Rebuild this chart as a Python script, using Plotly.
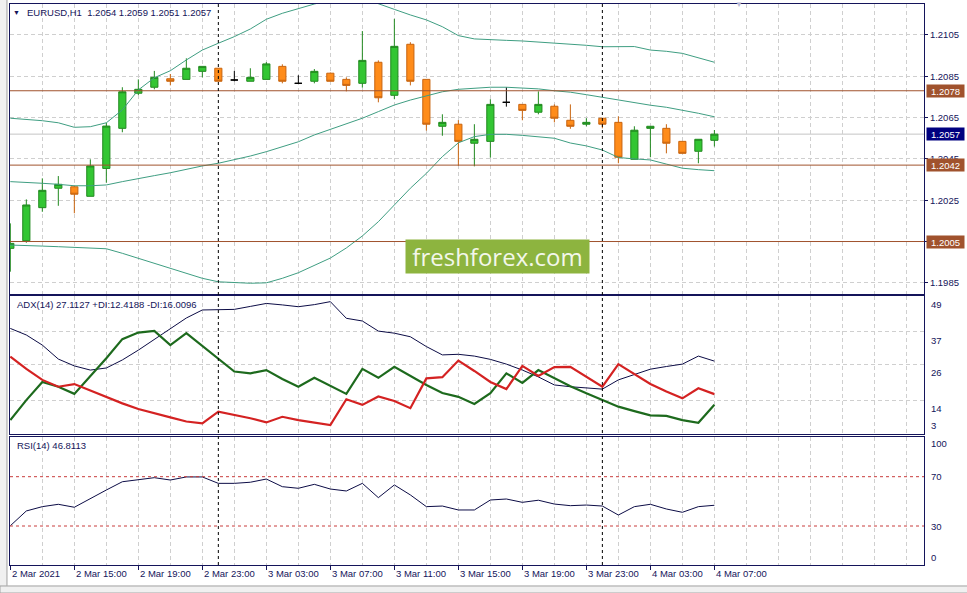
import plotly.graph_objects as go
from plotly.subplots import make_subplots
import pandas as pd

# ---------------- data ----------------
symbol = "EURUSD,H1"
times = pd.date_range("2021-03-02 11:00", periods=45, freq="h")

open_ = [1.20017, 1.20054, 1.20214, 1.20308, 1.20315, 1.20269, 1.20404, 1.20598, 1.20768, 1.20797,
         1.20838, 1.20835, 1.20874, 1.20889, 1.20832, 1.20826, 1.20835, 1.20898, 1.20816, 1.20826,
         1.20865, 1.20835, 1.20816, 1.20918, 1.20758, 1.21005, 1.20835, 1.20608, 1.20618, 1.20526,
         1.20535, 1.20724, 1.20714, 1.20676, 1.20705, 1.20637, 1.20618, 1.20647, 1.20627, 1.20448,
         1.20598, 1.20598, 1.20535, 1.20487, 1.2054]
high = [1.20138, 1.20254, 1.20356, 1.20367, 1.20322, 1.20448, 1.20625, 1.20797, 1.20835, 1.20876,
        1.20861, 1.20937, 1.20898, 1.20889, 1.20876, 1.20889, 1.20919, 1.20908, 1.20855, 1.20885,
        1.20868, 1.20845, 1.21069, 1.20927, 1.21128, 1.21015, 1.20835, 1.20666, 1.20638, 1.20618,
        1.20739, 1.20797, 1.20714, 1.20777, 1.20714, 1.20714, 1.20647, 1.20647, 1.20656, 1.20608,
        1.20608, 1.20618, 1.20535, 1.20545, 1.2059]
low = [1.19904, 1.20044, 1.20194, 1.20223, 1.20187, 1.20269, 1.20335, 1.20579, 1.20759, 1.20787,
       1.20806, 1.20835, 1.20845, 1.20826, 1.20826, 1.20826, 1.20835, 1.20816, 1.20816, 1.20816,
       1.20826, 1.20777, 1.20795, 1.20724, 1.20739, 1.20806, 1.20587, 1.20562, 1.20417, 1.20414,
       1.20456, 1.20703, 1.20637, 1.20666, 1.20627, 1.20596, 1.20608, 1.20598, 1.20429, 1.20448,
       1.20458, 1.20477, 1.20477, 1.20429, 1.2051]
close = [1.20041, 1.20227, 1.20298, 1.20327, 1.20279, 1.20416, 1.20609, 1.20775, 1.20787, 1.20845,
         1.20826, 1.20889, 1.20898, 1.20826, 1.20832, 1.20845, 1.20910, 1.20826, 1.20816, 1.20874,
         1.20826, 1.20806, 1.20927, 1.20746, 1.20995, 1.20826, 1.20618, 1.20627, 1.20535, 1.20545,
         1.20714, 1.20724, 1.20685, 1.20714, 1.20647, 1.20608, 1.20627, 1.20618, 1.20458, 1.20589,
         1.20608, 1.20526, 1.20477, 1.20545, 1.2057]

bb_upper = [1.20647, 1.20642, 1.20635, 1.20625, 1.20603, 1.20606, 1.20625, 1.20687, 1.20784, 1.20843,
            1.20877, 1.20929, 1.20977, 1.21010, 1.21042, 1.21079, 1.21126, 1.21155, 1.21179, 1.21200,
            1.21219, 1.21234, 1.21229, 1.21200, 1.21174, 1.21147, 1.21123, 1.21090, 1.21047, 1.21031,
            1.21026, 1.21024, 1.21021, 1.21016, 1.21013, 1.21006, 1.21000, 1.20993, 1.20995, 1.20994,
            1.20977, 1.20971, 1.20961, 1.20940, 1.20918]
bb_middle = [1.20340, 1.20337, 1.20332, 1.20327, 1.20320, 1.20320, 1.20324, 1.20340, 1.20353, 1.20369,
             1.20383, 1.20400, 1.20416, 1.20429, 1.20445, 1.20464, 1.20485, 1.20509, 1.20533, 1.20566,
             1.20593, 1.20619, 1.20647, 1.20679, 1.20711, 1.20735, 1.20756, 1.20775, 1.20787, 1.20792,
             1.20797, 1.20797, 1.20793, 1.20789, 1.20780, 1.20773, 1.20761, 1.20748, 1.20735, 1.20722,
             1.20710, 1.20700, 1.20687, 1.20671, 1.20654]
bb_lower = [1.20033, 1.20032, 1.20028, 1.20025, 1.20022, 1.20020, 1.20015, 1.19993, 1.19969, 1.19944,
            1.19920, 1.19896, 1.19872, 1.19855, 1.19850, 1.19848, 1.19850, 1.19872, 1.19899, 1.19936,
            1.19970, 1.20019, 1.20077, 1.20146, 1.20227, 1.20308, 1.20380, 1.20461, 1.20528, 1.20558,
            1.20569, 1.20569, 1.20564, 1.20558, 1.20550, 1.20527, 1.20513, 1.20493, 1.20457, 1.20450,
            1.20445, 1.20425, 1.20405, 1.20398, 1.20393]

adx = [38.1, 35.9, 32.5, 27.8, 25.5, 24.1, 24.8, 27.5, 30.8, 34.5,
       38.2, 41.6, 44.3, 44.5, 44.5, 45.5, 46.5, 46.0, 45.4, 46.1,
       47.1, 41.5, 40.6, 37.2, 36.5, 35.3, 32.0, 29.2, 29.4, 28.8,
       27.7, 26.1, 24.1, 21.8, 19.1, 18.5, 18.1, 17.7, 20.8, 22.6,
       24.4, 25.3, 26.1, 28.8, 27.1127]
plus_di = [7.3, 14.0, 20.1, 18.5, 16.1, 22.1, 28.1, 34.5, 36.7, 37.3,
           32.5, 36.5, 32.2, 28.1, 23.6, 23.0, 24.1, 21.1, 18.5, 21.5,
           18.7, 16.1, 24.5, 21.5, 25.2, 22.1, 19.1, 16.4, 15.1, 12.7,
           16.3, 23.0, 19.8, 24.1, 21.3, 18.7, 16.3, 14.0, 11.8, 10.3,
           8.9, 8.7, 7.3, 6.4, 12.4188]
minus_di = [28.6, 24.5, 20.8, 18.5, 19.4, 17.2, 15.1, 12.9, 11.0, 9.5,
            8.2, 6.8, 6.2, 10.1, 9.0, 7.9, 6.5, 8.4, 7.3, 6.5,
            5.6, 14.3, 12.4, 15.2, 13.7, 11.3, 21.3, 21.7, 27.3, 23.8,
            20.1, 17.7, 25.5, 22.1, 25.1, 25.2, 21.8, 18.5, 26.1, 22.8,
            19.4, 16.9, 14.6, 18.0, 16.0096]
rsi = [30.2, 42.2, 45.7, 47.6, 45.2, 52.5, 59.2, 65.9, 67.3, 69.2,
       67.3, 69.8, 69.8, 64.6, 64.6, 65.5, 68.1, 61.9, 60.6, 63.8,
       60.0, 58.4, 64.6, 53.0, 63.3, 55.2, 45.7, 46.2, 43.0, 43.0,
       51.1, 51.9, 49.2, 50.9, 47.8, 46.5, 47.0, 46.2, 38.9, 45.7,
       47.6, 43.8, 41.1, 45.7, 46.8113]

sr_levels = [1.2078, 1.2042, 1.2005]
price_ticks = [1.2105, 1.2085, 1.2065, 1.2045, 1.2025, 1.2005, 1.1985]
adx_ticks = [49, 37, 26, 14, 3]
rsi_ticks = [100, 70, 30, 0]
rsi_levels = [70, 30]
time_labels = ["2 Mar 2021", "2 Mar 15:00", "2 Mar 19:00", "2 Mar 23:00", "3 Mar 03:00",
               "3 Mar 07:00", "3 Mar 11:00", "3 Mar 15:00", "3 Mar 19:00", "3 Mar 23:00",
               "4 Mar 03:00", "4 Mar 07:00"]
time_label_bars = [0, 4, 8, 12, 16, 20, 24, 28, 32, 36, 40, 44]

# ---------------- styling ----------------
NAVY = "#14145a"
GRID = "#cfcfcf"
BB_COLOR = "#3f9e82"
SR_COLOR = "#a0522d"
FONT = "Liberation Sans, Arial, sans-serif"
FS = 9.5

idx = list(range(len(close)))
X_RANGE = [-0.02, 57.1]

fig = make_subplots(rows=3, cols=1, shared_xaxes=False)

# Bollinger bands
for band in (bb_upper, bb_middle, bb_lower):
    fig.add_trace(go.Scatter(x=idx, y=band, mode="lines", line=dict(color=BB_COLOR, width=1),
                             hoverinfo="skip"), row=1, col=1)

# candles (normal + doji drawn black)
norm = [i for i in idx if open_[i] != close[i]]
doji = [i for i in idx if open_[i] == close[i]]
fig.add_trace(go.Candlestick(
    x=norm, open=[open_[i] for i in norm], high=[high[i] for i in norm],
    low=[low[i] for i in norm], close=[close[i] for i in norm],
    increasing=dict(line=dict(color="#21891f", width=1), fillcolor="#33c633"),
    decreasing=dict(line=dict(color="#c8640f", width=1), fillcolor="#ff8c1a"),
    whiskerwidth=0, hoverinfo="skip"), row=1, col=1)
fig.add_trace(go.Candlestick(
    x=doji, open=[open_[i] for i in doji], high=[high[i] for i in doji],
    low=[low[i] for i in doji], close=[close[i] for i in doji],
    increasing=dict(line=dict(color="#000000", width=1), fillcolor="#000000"),
    decreasing=dict(line=dict(color="#000000", width=1), fillcolor="#000000"),
    whiskerwidth=0, hoverinfo="skip"), row=1, col=1)

# ADX panel
fig.add_trace(go.Scatter(x=idx, y=adx, mode="lines", line=dict(color="#0c0c46", width=1)), row=2, col=1)
fig.add_trace(go.Scatter(x=idx, y=plus_di, mode="lines", line=dict(color="#1d6a1d", width=2.2)), row=2, col=1)
fig.add_trace(go.Scatter(x=idx, y=minus_di, mode="lines", line=dict(color="#d42222", width=2.2)), row=2, col=1)

# RSI panel
fig.add_trace(go.Scatter(x=idx, y=rsi, mode="lines", line=dict(color="#0c0c46", width=1)), row=3, col=1)

# ---------------- layout ----------------
fig.update_layout(
    width=967, height=593, margin=dict(l=10, r=43, t=4, b=28),
    paper_bgcolor="white", plot_bgcolor="white", showlegend=False,
    font=dict(family=FONT, size=FS, color=NAVY), boxgap=0.36,
)

axis_line = dict(showline=True, mirror=True, linecolor=NAVY, linewidth=1, zeroline=False)
grid_x = dict(showgrid=True, gridcolor=GRID, griddash="4px,3px", gridwidth=1)

for r in (1, 2):
    fig.update_xaxes(row=r, col=1, range=X_RANGE, tickmode="array",
                     tickvals=list(range(0, 58, 2)), showticklabels=False, ticks="",
                     rangeslider=dict(visible=False), **grid_x, **axis_line)
fig.update_xaxes(row=3, col=1, range=X_RANGE, tickmode="array", tickvals=time_label_bars,
                 showticklabels=False, ticks="outside", ticklen=4, tickcolor=NAVY,
                 minor=dict(tick0=0, dtick=2, showgrid=True, gridcolor=GRID, griddash="4px,3px",
                            ticks=""),
                 rangeslider=dict(visible=False), **grid_x, **axis_line)

fig.update_yaxes(row=1, col=1, domain=[0.48307, 1.0], range=[1.19796, 1.21200], side="right",
                 tickmode="array", tickvals=price_ticks, ticktext=[f"{v:.4f}" for v in price_ticks],
                 ticks="outside", ticklen=3, tickcolor=NAVY, tickfont=dict(size=FS, color=NAVY),
                 showgrid=True, gridcolor=GRID, griddash="4px,3px", **axis_line)
fig.update_yaxes(row=2, col=1, domain=[0.23351, 0.47950], range=[2.61, 49.0], side="right",
                 tickmode="array", tickvals=adx_ticks[1:-1], showticklabels=False, ticks="",
                 showgrid=True, gridcolor=GRID, griddash="4px,3px", **axis_line)
fig.update_yaxes(row=3, col=1, domain=[0.0, 0.22816], range=[-1.64, 102.2], side="right",
                 showticklabels=False, ticks="", showgrid=False, **axis_line)

shapes = []
# current bid line
shapes.append(dict(type="line", xref="paper", yref="y", x0=0, x1=1, y0=close[-1], y1=close[-1],
                   line=dict(color="#c4c4c4", width=1), layer="between"))
# support / resistance levels (drawn over the chart like MT4 objects)
for lvl in sr_levels:
    shapes.append(dict(type="line", xref="paper", yref="y", x0=0, x1=1, y0=lvl, y1=lvl,
                       line=dict(color=SR_COLOR, width=1), layer="above"))
# RSI levels
for lvl in rsi_levels:
    shapes.append(dict(type="line", xref="paper", yref="y3", x0=0, x1=1, y0=lvl, y1=lvl,
                       line=dict(color="#c83c3c", width=1, dash="3px,3px"), layer="above"))
# day separators
for i, t in enumerate(times):
    if t.hour == 0:
        shapes.append(dict(type="line", xref="x", yref="paper", x0=i, x1=i, y0=0, y1=1,
                           line=dict(color="#000000", width=1, dash="3px,3px"), layer="above"))
# window chrome (left strip, bottom tab bar)
shapes.append(dict(type="rect", xref="paper", yref="paper", x0=-0.011, x1=-0.0033, y0=-0.05, y1=1.008,
                   fillcolor="#f0f0f0", line=dict(width=0)))
shapes.append(dict(type="line", xref="paper", yref="paper", x0=-0.0033, x1=-0.0033, y0=-0.037, y1=1.008,
                   line=dict(color="#a0a0a0", width=1)))
shapes.append(dict(type="rect", xref="paper", yref="paper", x0=-0.011, x1=1.05, y0=-0.05, y1=-0.0374,
                   fillcolor="#f0f0f0", line=dict(color="#a0a0a0", width=1)))
fig.update_layout(shapes=shapes)

ann = []
# header
ann.append(dict(xref="paper", yref="paper", x=0.0066, y=0.9857, text="▼", showarrow=False,
                font=dict(size=7, color=NAVY), xanchor="center", yanchor="middle"))
ann.append(dict(xref="paper", yref="paper", x=0.0164, y=0.9857, showarrow=False,
                text=f"{symbol}\u00a0\u00a0{open_[-1]:.4f} {high[-1]:.4f} {low[-1]:.4f} {close[-1]:.4f}",
                font=dict(size=FS, color=NAVY), xanchor="left", yanchor="middle"))
# shift marker
ann.append(dict(xref="paper", yref="paper", x=0.7976, y=1.0, text="▼", showarrow=False,
                font=dict(size=8, color="#b8b8d4"), xanchor="center", yanchor="middle"))
# indicator captions
ann.append(dict(xref="paper", yref="paper", x=0.0055, y=0.4635, showarrow=False,
                text=f"ADX(14) {adx[-1]:.4f} +DI:{plus_di[-1]:.4f} -DI:{minus_di[-1]:.4f}",
                font=dict(size=FS, color=NAVY), xanchor="left", yanchor="middle"))
ann.append(dict(xref="paper", yref="paper", x=0.0055, y=0.2127, showarrow=False,
                text=f"RSI(14) {rsi[-1]:.4f}",
                font=dict(size=FS, color=NAVY), xanchor="left", yanchor="middle"))
# ADX axis labels
for v in adx_ticks:
    last = v == adx_ticks[-1]
    ann.append(dict(xref="paper", yref="y2", x=1.0055, y=v, text=str(v), showarrow=False,
                    font=dict(size=FS, color=NAVY), xanchor="left",
                    yanchor="bottom" if last else "top", yshift=0 if last else -1))
# RSI axis labels
rsi_shift = {100: -4, 70: 0, 30: 0, 0: 5}
for v in rsi_ticks:
    ann.append(dict(xref="paper", yref="y3", x=1.0055, y=v, text=str(v), showarrow=False,
                    font=dict(size=FS, color=NAVY), xanchor="left", yanchor="middle",
                    yshift=rsi_shift[v]))
# price boxes
for lvl in sr_levels:
    ann.append(dict(xref="paper", yref="y", x=1.0022, y=lvl, text=f"{lvl:.4f}", showarrow=False,
                    font=dict(size=FS, color="white"), bgcolor=SR_COLOR, xanchor="left",
                    yanchor="middle", width=35, height=10, borderpad=1))
ann.append(dict(xref="paper", yref="y", x=1.0022, y=close[-1], text=f"{close[-1]:.4f}", showarrow=False,
                font=dict(size=FS, color="white"), bgcolor="#000080", xanchor="left",
                yanchor="middle", width=35, height=10, borderpad=1))
# time labels
for b, lab in zip(time_label_bars, time_labels):
    ann.append(dict(xref="x3", yref="paper", x=b, y=-0.0152, text=lab, showarrow=False,
                    font=dict(size=FS, color=NAVY), xanchor="left", yanchor="middle"))
# watermark
ann.append(dict(xref="paper", yref="paper", x=0.5334, y=0.5499, text="freshforex.com", showarrow=False,
                font=dict(family="Open Sans", size=24, color="#f3f7ea"), bgcolor="#8db43f",
                width=181, height=31, borderpad=1, xanchor="center", yanchor="middle"))
fig.update_layout(annotations=ann)

fig.write_html("out.html", config={"displayModeBar": False},
               post_script="document.body.style.margin='0px';document.body.style.overflow='hidden';")
